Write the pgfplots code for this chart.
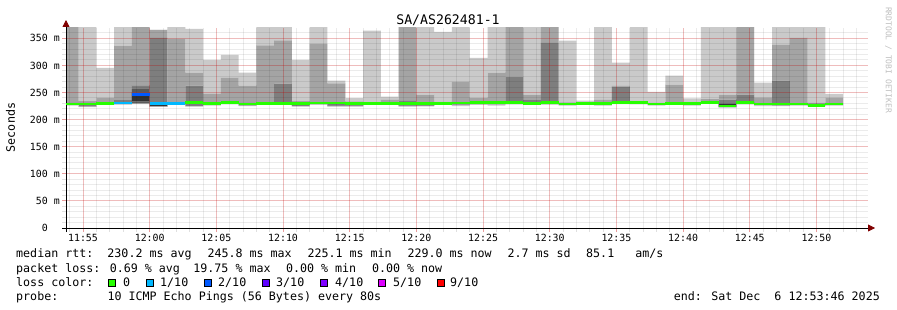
\documentclass[border=0pt]{standalone}
\usepackage{pgfplots}
\pgfplotsset{compat=1.18}
\usepackage{pgfplotstable}
\usetikzlibrary{arrows.meta}
\usepackage{fontspec}
\setmainfont{DejaVu Sans Mono}
\definecolor{sm1}{RGB}{202,202,202}
\definecolor{sm2}{RGB}{164,164,164}
\definecolor{sm3}{RGB}{126,126,126}
\definecolor{sm4}{RGB}{88,88,88}
\definecolor{sm5}{RGB}{50,50,50}
\definecolor{loss0}{HTML}{26FF00}
\definecolor{loss1}{HTML}{00B8FF}
\definecolor{loss2}{HTML}{0059FF}
\definecolor{loss3}{HTML}{5E00FF}
\definecolor{loss4}{HTML}{7E00FF}
\definecolor{loss5}{HTML}{DD00FF}
\definecolor{loss9}{HTML}{FF0000}
\definecolor{arrowred}{RGB}{128,0,0}

% 80 s steps, bar i spans [i,i+1]; 12:00 at x=5 ; sorted pings p1..p10, median
\pgfplotstableread{
i p1 p2 p3 p4 p5 p6 p7 p8 p9 p10 med
0 226 227 227.5 228 228.5 229.5 230 231 380 380 229
1 223 223.5 224 227 228 229 230 231 234 380 228.5
2 227 227.5 228 228.5 229 230 230.5 231 240 295.5 229.5
3 228 228 228.5 229 229.5 231 232 236 336.5 380 230.5
4 228.5 229 229.5 231 233 250 256 263 380 380 245.8
5 223.5 224 224 224 224.5 230 231 350.8 365.5 365.5 229.5
6 227 227.5 228 228.5 229 230 230.5 231 349 380 229.5
7 224 224.5 225 229 231 232.5 233 262.9 286.5 367.4 232
8 226 227.5 228 228.5 229 230 230.5 231 247.6 310.2 229.5
9 228 229 229.5 230 230.5 231.5 232 232.5 277 319.5 231
10 225 225.5 226 227 228.5 230 230.5 231 262.9 286.5 229
11 227 227.5 228 228.5 229 230 230.5 231 336.8 380 229.5
12 227 227.5 228 228.5 229 230.5 231 266.5 346 380 229.5
13 224 224.5 225 227 229 230.5 231 231.5 234 310.2 230
14 227 227.5 228 229 230 231 231.5 232 339.7 380 230.5
15 224 224.5 225 226 228 231 231.5 232 267 272 230.5
16 224 224.5 225 226 228 230 230.5 231 233.5 239.6 229.5
17 227 227.5 228 228.5 229 230 230.5 231 231.5 364.3 229.5
18 227 227.5 228 228.5 229 230 230.5 231 236.5 242.6 229.5
19 224 224.5 225 226 228 230.5 231 234.5 380 380 229.5
20 224.5 225 225.5 226 227 230 230.5 231 246.3 380 229.5
21 227 227.5 228 228.5 229 231 231.5 232 233 361.8 230
22 225 226 227 228 229.5 231 231.5 232 269.5 380 230.5
23 227 227.5 228 229 230 231.5 231.8 232 240.5 314 231
24 226 227 228 229.5 230.5 232 232.5 233 286.5 380 231.5
25 228 228.5 229 230 231 232.5 233 279.2 380 380 232
26 227 227.5 228 228.5 229 230.5 231 236 246 380 229.5
27 227 228 229 230 231 232.5 233 341.6 380 380 232
28 226 226.5 227 227.5 228 229.5 230 231 232 345.9 228.5
29 227 227.5 228 228.5 229 229.8 230 230.5 231 235 229.5
30 226 226.5 227.5 228.5 229 230 230.5 231 236.5 380 229.5
31 228.5 229 229.5 230 231 233 233.5 261 262 305 232
32 228 229 229.5 230 230.5 231.5 231.8 232 233 380 231
33 226 227 227.5 228 228.5 229.5 230 230.5 231 251 229
34 227 228 228.5 229 229.5 230.5 231 232 264.3 281 230
35 226 227 228 228.5 229 229.8 230 230.5 231 239 229.5
36 229 229.5 230 230.5 231 231.8 232 232.5 237.8 380 231.5
37 222 222.5 223 223.5 224 229 230 237 246.3 380 225.1
38 228 228.5 229 229.5 230 232 233 246.3 380 380 231
39 225 226 227 227.5 228 229 229.5 230 241 268.4 228.5
40 225 225.5 226 227 228 229.5 230 272 338 380 228.5
41 226 226.5 227 227.5 228 229 229.5 230 350.8 380 228.5
42 224.5 225 225.5 226 226.5 228 228.5 229 231 380 226.5
43 226 226.5 227 227.5 228 229 229.5 230 240 247.6 228.5
44 226 226.5 227 227.5 228 229 229.5 230 240 247.6 228.5
}\smoke

\newcommand{\lf}{\fontsize{11.66bp}{13bp}\selectfont}
\pgfplotsset{rrdbox/.style={at={(66bp,82bp)}, anchor=south west,
  scale only axis, width=802bp, height=200bp,
  xmin=0.293, xmax=45.4, ymin=0, ymax=369}}
\begin{document}
\begin{tikzpicture}
\begin{axis}[
  rrdbox, axis on top,
  axis lines=left,
  axis line style={black, line width=0.8bp},
  x axis line style={-{Triangle[length=7bp,width=7bp,color=arrowred]}, shorten >=-7bp, shorten <=-4bp},
  y axis line style={-{Triangle[length=7bp,width=7bp,color=arrowred]}, shorten >=-8bp, shorten <=-4bp},
  xtick={1.25,5,8.75,12.5,16.25,20,23.75,27.5,31.25,35,38.75,42.5},
  xticklabels={11:55,12:00,12:05,12:10,12:15,12:20,12:25,12:30,12:35,12:40,12:45,12:50},
  minor xtick={0.5,1.25,...,45.3},
  ytick={0,50,...,350},
  yticklabels={0\hphantom{\ m},50 m,100 m,150 m,200 m,250 m,300 m,350 m},
  minor ytick={10,20,...,360},
  grid=both,
  major grid style={draw=red, opacity=0.2, line width=1bp},
  minor grid style={draw=black, opacity=0.08, line width=1bp},
  tick align=outside,
  major tick length=4bp, minor tick length=4bp,
  major tick style={draw=red, opacity=0.3, line width=1bp},
  minor tick style={draw=black, opacity=0.12, line width=1bp},
  tick label style={font=\fontsize{9.9bp}{11bp}\selectfont, inner sep=0pt},
  xticklabel style={anchor=north, yshift=-2bp},
  yticklabel style={anchor=east, xshift=-2bp},
  stack plots=y,
]
\addplot[draw=none, const plot mark left, forget plot] table[x=i,y=p1]{\smoke};
\addplot[fill=sm1, draw=none, const plot mark left] table[x=i,y expr=\thisrow{p2}-\thisrow{p1}]{\smoke} \closedcycle;
\addplot[fill=sm2, draw=none, const plot mark left] table[x=i,y expr=\thisrow{p3}-\thisrow{p2}]{\smoke} \closedcycle;
\addplot[fill=sm3, draw=none, const plot mark left] table[x=i,y expr=\thisrow{p4}-\thisrow{p3}]{\smoke} \closedcycle;
\addplot[fill=sm4, draw=none, const plot mark left] table[x=i,y expr=\thisrow{p5}-\thisrow{p4}]{\smoke} \closedcycle;
\addplot[fill=sm5, draw=none, const plot mark left] table[x=i,y expr=\thisrow{p6}-\thisrow{p5}]{\smoke} \closedcycle;
\addplot[fill=sm4, draw=none, const plot mark left] table[x=i,y expr=\thisrow{p7}-\thisrow{p6}]{\smoke} \closedcycle;
\addplot[fill=sm3, draw=none, const plot mark left] table[x=i,y expr=\thisrow{p8}-\thisrow{p7}]{\smoke} \closedcycle;
\addplot[fill=sm2, draw=none, const plot mark left] table[x=i,y expr=\thisrow{p9}-\thisrow{p8}]{\smoke} \closedcycle;
\addplot[fill=sm1, draw=none, const plot mark left] table[x=i,y expr=\thisrow{p10}-\thisrow{p9}]{\smoke} \closedcycle;
\end{axis}
% median band, coloured by loss, in an overlaid axis with the same frame
\begin{axis}[rrdbox, axis lines=none]
\addplot[draw=loss0, line width=2.6bp, jump mark left, mark=none] table[x=i,y=med]{\smoke};
\addplot[draw=loss1, line width=2.8bp, mark=none] coordinates {(3,230.5) (4,230.5)};
\addplot[draw=loss1, line width=2.8bp, mark=none] coordinates {(5,229.5) (7,229.5)};
\addplot[draw=loss2, line width=2.8bp, mark=none] coordinates {(4,245.8) (5,245.8)};
\end{axis}
% title, unit label, watermark
\node[anchor=base, inner sep=0pt, font=\fontsize{13.2bp}{15bp}\selectfont] at (448bp,285bp) {SA/AS262481-1};
\node[rotate=90, inner sep=0pt, font=\lf] at (10.5bp,182.5bp) {Seconds};
\node[rotate=-90, inner sep=0pt, text=gray!50, font=\fontsize{8bp}{9bp}\selectfont] at (888.5bp,250bp) {RRDTOOL / TOBI OETIKER};
% legend
\begin{scope}[every node/.style={anchor=base west, inner sep=0pt, font=\lf}]
\node at (16bp,52bp) {median rtt:\ \ 230.2 ms avg};
\node at (207.3bp,52bp) {245.8 ms max};
\node at (307.3bp,52bp) {225.1 ms min};
\node at (407.3bp,52bp) {229.0 ms now};
\node at (507.3bp,52bp) {2.7 ms sd};
\node at (586bp,52bp) {85.1\ \ \ am/s};
\node at (16bp,38bp) {packet loss: 0.69 \% avg};
\node at (193.2bp,38bp) {19.75 \% max};
\node at (285.8bp,38bp) {0.00 \% min};
\node at (371.8bp,38bp) {0.00 \% now};
\node at (16bp,24bp) {loss color:};
\node at (123bp,24bp) {0};
\node at (160bp,24bp) {1/10};
\node at (218bp,24bp) {2/10};
\node at (276bp,24bp) {3/10};
\node at (335bp,24bp) {4/10};
\node at (393bp,24bp) {5/10};
\node at (450bp,24bp) {9/10};
\node at (16bp,10bp) {probe:};
\node at (107.3bp,10bp) {10 ICMP Echo Pings (56 Bytes) every 80s};
\node[anchor=base east] at (880bp,10bp) {end: Sat Dec\ \ 6 12:53:46 2025};
\end{scope}
\begin{scope}[line width=0.6bp]
\draw[fill=loss0] (108.7bp,24bp) rectangle ++(7bp,7bp);
\draw[fill=loss1] (146bp,24bp) rectangle ++(7bp,7bp);
\draw[fill=loss2] (204bp,24bp) rectangle ++(7bp,7bp);
\draw[fill=loss3] (262bp,24bp) rectangle ++(7bp,7bp);
\draw[fill=loss4] (320bp,24bp) rectangle ++(7bp,7bp);
\draw[fill=loss5] (378bp,24bp) rectangle ++(7bp,7bp);
\draw[fill=loss9] (437bp,24bp) rectangle ++(7bp,7bp);
\end{scope}
\path (0,0) rectangle (897bp,310bp);
\end{tikzpicture}
\end{document}
